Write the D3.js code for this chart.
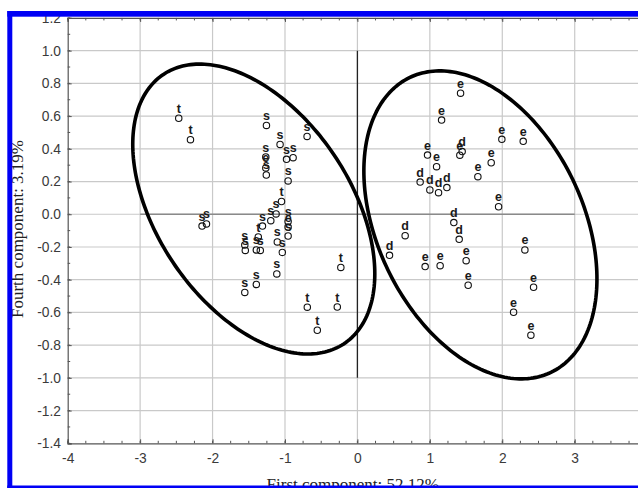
<!DOCTYPE html>
<html>
<head>
<meta charset="utf-8">
<script src="https://cdn.jsdelivr.net/npm/d3@7/dist/d3.min.js"></script>
<style>
  body { margin: 0; background: #fff; }
  svg { display: block; }
</style>
</head>
<body>
<div id="chart"></div>
<script>
// score plot, first vs fourth component
const xTicks = [-4, -3, -2, -1, 0, 1, 2, 3];
const yTicks = [-1.4, -1.2, -1.0, -0.8, -0.6, -0.4, -0.2, 0.0, 0.2, 0.4, 0.6, 0.8, 1.0, 1.2];

const pointGroup = [
    "t", "t", "s", "s", "s", "s", "s", "e", "s", "s", "s", "s", "s",
    "t", "s", "s", "s", "s", "e", "s", "s", "s", "s", "s", "t", "s",
    "s", "s", "s", "s", "t", "t", "t", "t",
    "e", "e", "e", "e", "e", "e", "e", "d", "e", "e", "d", "d", "d",
    "d", "e", "d", "d", "d", "d", "e", "e", "e", "e", "e", "e", "e", "e"
];
const pc1 = [
    -2.467, -2.305, -2.145, -2.084, -1.256, -1.068, -1.265, -1.265, -1.258, -0.979, -0.888, -0.957, -0.695,
    -1.048, -1.123, -1.196, -1.311, -0.957, -0.957, -0.957, -1.555, -1.548, -1.396, -1.341, -1.369, -1.106,
    -1.037, -1.113, -1.396, -1.555, -0.229, -0.692, -0.278, -0.554,
    1.424, 1.162, 1.994, 2.289, 0.968, 1.093, 1.414, 1.446, 1.847, 1.663, 0.866, 1.000, 1.120,
    1.235, 1.949, 1.331, 1.405, 0.659, 0.443, 0.935, 1.142, 1.501, 1.529, 2.312, 2.432, 2.156, 2.395
];
const pc4 = [
    0.587, 0.456, -0.072, -0.059, 0.543, 0.427, 0.350, 0.283, 0.240, 0.336, 0.346, 0.204, 0.476,
    0.078, 0.002, -0.039, -0.072, -0.045, -0.078, -0.133, -0.188, -0.221, -0.218, -0.221, -0.139, -0.169,
    -0.233, -0.365, -0.429, -0.478, -0.325, -0.568, -0.567, -0.709,
    0.740, 0.576, 0.458, 0.446, 0.362, 0.291, 0.361, 0.383, 0.315, 0.230, 0.197, 0.149, 0.132,
    0.163, 0.046, -0.051, -0.153, -0.131, -0.251, -0.320, -0.314, -0.284, -0.434, -0.218, -0.446, -0.599, -0.739
];

// group ellipses: centre and spread (var x, var y, cov) in score units
const ellipseCx = [-1.431, 1.698];
const ellipseCy = [0.032, -0.065];
const ellipseVarX = [2.792, 2.589];
const ellipseVarY = [0.785, 0.886];
const ellipseCov = [-0.661, -0.530];

const xTitle = "First component: 52.12%";
const yTitle = "Fourth component: 3.19%";

const W = 638, H = 488;

const x = d3.scaleLinear()
    .domain([-4, 3.9])
    .range([67.7, 67.7 + 7.9 * 72.43]);
const y = d3.scaleLinear()
    .domain([-1.4, 1.2])
    .range([443.3, 443.3 - 2.6 * 163.6]);

const svg = d3.select("#chart")
    .append("svg")
    .attr("width", W)
    .attr("height", H);

svg.append("rect").attr("width", W).attr("height", H).attr("fill", "#fff");

const [x0, x1] = x.range();
const [y0, y1] = y.range();

// grid
svg.append("g")
    .selectAll("line")
    .data(yTicks.slice(1, -1))
    .enter().append("line")
    .attr("x1", x0).attr("x2", x1)
    .attr("y1", d => y(d)).attr("y2", d => y(d))
    .attr("stroke", "#c9c9c9").attr("stroke-width", 1.2);

svg.append("g")
    .selectAll("line")
    .data(xTicks.slice(1))
    .enter().append("line")
    .attr("x1", d => x(d)).attr("x2", d => x(d))
    .attr("y1", y0).attr("y2", y1)
    .attr("stroke", "#c9c9c9").attr("stroke-width", 1.2);

// zero lines
svg.append("line")
    .attr("x1", x(-3)).attr("x2", x(3))
    .attr("y1", y(0)).attr("y2", y(0))
    .attr("stroke", "#8a8a8a").attr("stroke-width", 1.6);
svg.append("line")
    .attr("x1", x(0)).attr("x2", x(0))
    .attr("y1", y(1)).attr("y2", y(-1))
    .attr("stroke", "#222").attr("stroke-width", 1.3);

// ellipses
const line = d3.line()
    .x(d => x(d[0]))
    .y(d => y(d[1]))
    .curve(d3.curveLinearClosed);

for (let k = 0; k < ellipseCx.length; ++k) {
    const a = Math.sqrt(ellipseVarX[k]);
    const c = ellipseCov[k] / a;
    const b = Math.sqrt(ellipseVarY[k] - c * c);
    const pts = d3.range(0, 2 * Math.PI, Math.PI / 120).map(t => [
        ellipseCx[k] + a * Math.cos(t),
        ellipseCy[k] + c * Math.cos(t) + b * Math.sin(t)
    ]);
    svg.append("path")
        .attr("d", line(pts))
        .attr("fill", "none")
        .attr("stroke", "#000")
        .attr("stroke-width", 3.6);
}

// points
const points = pointGroup.map((g, i) => ({g: g, x: pc1[i], y: pc4[i]}));

svg.append("g")
    .selectAll("circle")
    .data(points)
    .enter().append("circle")
    .attr("cx", d => x(d.x))
    .attr("cy", d => y(d.y))
    .attr("r", 3.2)
    .attr("fill", "none")
    .attr("stroke", "#111")
    .attr("stroke-width", 1.1);

svg.append("g")
    .selectAll("text")
    .data(points)
    .enter().append("text")
    .attr("x", d => x(d.x))
    .attr("y", d => y(d.y) - 5.5)
    .attr("text-anchor", "middle")
    .style("font-family", "'Liberation Sans', Arial, sans-serif")
    .style("font-size", "12.5px")
    .style("font-weight", "bold")
    .attr("fill", "#1a1a1a")
    .text(d => d.g);

// axes
const axisColor = "#555";
const fmtY = d => d.toFixed(1);

const axisB = svg.append("g")
    .attr("transform", "translate(0," + y0 + ")")
    .call(d3.axisBottom(x).tickValues(xTicks).tickSize(-4).tickPadding(10).tickFormat(d => String(d)));
const axisL = svg.append("g")
    .attr("transform", "translate(" + x0 + ",0)")
    .call(d3.axisLeft(y).tickValues(yTicks).tickSize(-4).tickPadding(6.7).tickFormat(fmtY));
const axisT = svg.append("g")
    .attr("transform", "translate(0," + y1 + ")")
    .call(d3.axisTop(x).tickValues(xTicks).tickSize(-4).tickFormat(""));

// minor ticks
const minorX = d3.range(-4, 3.9, 0.25);
const minorY = d3.range(-1.4, 1.21, 0.1);
svg.append("g").selectAll("line").data(minorX).enter().append("line")
    .attr("x1", d => x(d)).attr("x2", d => x(d))
    .attr("y1", y0).attr("y2", y0 - 2.5)
    .attr("stroke", axisColor);
svg.append("g").selectAll("line").data(minorX).enter().append("line")
    .attr("x1", d => x(d)).attr("x2", d => x(d))
    .attr("y1", y1).attr("y2", y1 + 2.5)
    .attr("stroke", axisColor);
svg.append("g").selectAll("line").data(minorY).enter().append("line")
    .attr("x1", x0).attr("x2", x0 + 2.5)
    .attr("y1", d => y(d)).attr("y2", d => y(d))
    .attr("stroke", axisColor);

[axisB, axisL, axisT].forEach(g => {
    g.select(".domain").attr("stroke", axisColor).attr("stroke-width", 1.2);
    g.selectAll(".tick line").attr("stroke", axisColor);
    g.selectAll(".tick text")
        .attr("fill", "#3a3a3a")
        .style("font-family", "'Liberation Sans', Arial, sans-serif")
        .style("font-size", "13.8px");
});

// titles
svg.append("text")
    .attr("x", (x(-4) + x(3.9)) / 2 - 1)
    .attr("y", 490)
    .attr("text-anchor", "middle")
    .style("font-family", "'Liberation Serif', 'Times New Roman', serif")
    .style("font-size", "17px")
    .attr("fill", "#222")
    .text(xTitle);

svg.append("text")
    .attr("transform", "translate(22.5," + 229 + ") rotate(-90)")
    .attr("text-anchor", "middle")
    .style("font-family", "'Liberation Serif', 'Times New Roman', serif")
    .style("font-size", "17px")
    .attr("fill", "#222")
    .text(yTitle);

// blue frame of the figure
const blue = "#0000f5";
svg.append("rect").attr("x", 7.3).attr("y", 11).attr("width", W - 7.3).attr("height", 5.7).attr("fill", blue);
svg.append("rect").attr("x", 7.3).attr("y", 11).attr("width", 5).attr("height", H - 11).attr("fill", blue);
svg.append("rect").attr("x", 7.3).attr("y", 485.5).attr("width", W - 7.3).attr("height", 2.5).attr("fill", blue);
</script>
</body>
</html>
